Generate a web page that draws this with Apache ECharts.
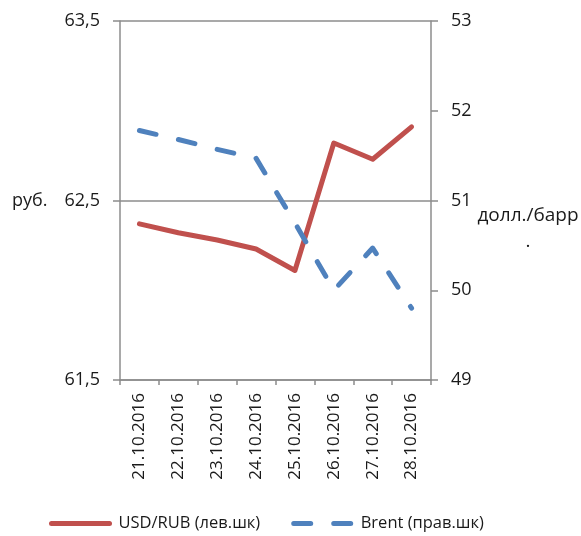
<!DOCTYPE html>
<html>
<head>
<meta charset="utf-8">
<script src="https://cdn.jsdelivr.net/npm/echarts@6/dist/echarts.min.js"></script>
<style>
  html, body { margin: 0; padding: 0; background: #fff; }
  #main { width: 581px; height: 536px; }
</style>
</head>
<body>
<div id="main"></div>
<script>
// даты по оси X
var dates = ['21.10.2016', '22.10.2016', '23.10.2016', '24.10.2016',
  '25.10.2016', '26.10.2016', '27.10.2016', '28.10.2016'];
// курс USD/RUB, левая шкала
var usdRub = [62.37, 62.32, 62.28, 62.23, 62.11, 62.82, 62.73, 62.91];
// нефть Brent, правая шкала
var brent = [51.78, 51.68, 51.57, 51.47, 50.75, 50.00, 50.47, 49.80];
// подписи серий
var seriesNames = ['USD/RUB (лев.шк)', 'Brent (прав.шк)'];

var font = 'Open Sans';
var axisGrey = '#8c8c8c';
var textColor = '#1a1a1a';

var chart = echarts.init(document.getElementById('main'));

chart.setOption({
  animation: false,
  textStyle: { fontFamily: font },
  grid: {
    left: 120,
    right: 150,
    top: 21,
    bottom: 156
  },
  legend: {
    data: seriesNames,
    left: 49,
    top: 515,
    padding: 0,
    itemWidth: 58,
    itemHeight: 14,
    itemGap: 31,
    itemStyle: { opacity: 0 },  // без маркеров, только линия
    lineStyle: { width: 5, cap: 'round' },
    textStyle: {
      fontFamily: font,
      fontSize: 16.5,
      color: textColor,
      padding: [0, 0, 0, 4]
    }
  },
  xAxis: {
    type: 'category',
    data: dates,
    boundaryGap: true,
    axisLine: { lineStyle: { color: axisGrey, width: 1.5 } },
    axisTick: { show: true, length: 5, lineStyle: { color: axisGrey, width: 1.5 } },
    axisLabel: {
      interval: 0,
      rotate: 90,
      margin: 13,
      fontFamily: font,
      fontSize: 17,
      color: textColor
    }
  },
  yAxis: [
    {
      // левая шкала, руб.
      type: 'value',
      min: 61.5,
      max: 63.5,
      interval: 1,
      position: 'left',
      axisLine: { show: true, lineStyle: { color: axisGrey, width: 1.5 } },
      axisTick: { show: true, inside: false, length: 7, lineStyle: { color: axisGrey, width: 1.5 } },
      splitLine: { show: true, lineStyle: { color: axisGrey, width: 1.5 } },
      axisLabel: {
        margin: 20,
        fontFamily: font,
        fontSize: 18,
        color: textColor,
        formatter: function (v) {
          return v.toFixed(1).replace('.', ',');
        }
      }
    },
    {
      // правая шкала, долл./барр.
      type: 'value',
      min: 49,
      max: 53,
      interval: 1,
      position: 'right',
      axisLine: { show: true, lineStyle: { color: axisGrey, width: 1.5 } },
      axisTick: { show: true, inside: false, length: 7, lineStyle: { color: axisGrey, width: 1.5 } },
      splitLine: { show: false },
      axisLabel: {
        margin: 20,
        fontFamily: font,
        fontSize: 18,
        color: textColor
      }
    }
  ],
  graphic: [
    {
      type: 'text',
      x: 12,
      y: 201,
      style: { text: 'руб.', font: '18px "Open Sans"', fill: textColor, verticalAlign: 'middle' }
    },
    {
      type: 'text',
      x: 528,
      y: 216,
      style: { text: 'долл./барр', font: '19px "Open Sans"', fill: textColor, align: 'center', verticalAlign: 'middle' }
    },
    {
      type: 'text',
      x: 528,
      y: 242,
      style: { text: '.', font: '19px "Open Sans"', fill: textColor, align: 'center', verticalAlign: 'middle' }
    }
  ],
  series: [
    {
      name: seriesNames[0],
      type: 'line',
      yAxisIndex: 0,
      data: usdRub,
      symbol: 'none',
      color: '#c0504d',
      lineStyle: { width: 5, color: '#c0504d', cap: 'round', join: 'round' }
    },
    {
      name: seriesNames[1],
      type: 'line',
      yAxisIndex: 1,
      data: brent,
      symbol: 'none',
      color: '#4f81bd',
      lineStyle: { width: 5, color: '#4f81bd', type: [17, 23], cap: 'round', join: 'round' }
    }
  ]
});
</script>
</body>
</html>
